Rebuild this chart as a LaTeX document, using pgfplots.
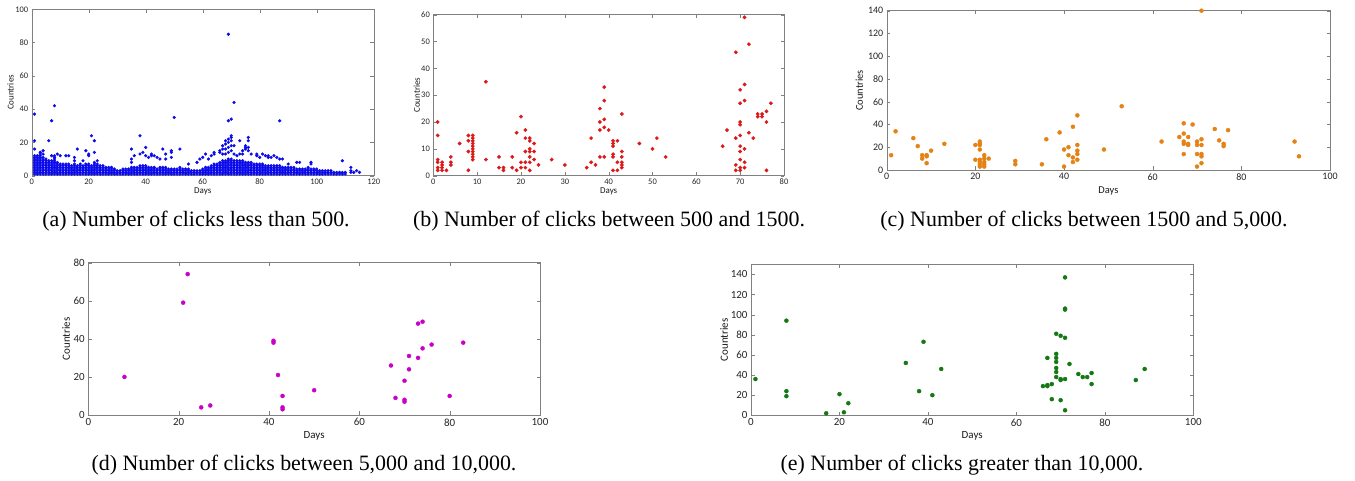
\documentclass[border=0pt]{standalone}
\usepackage{fontspec}
\setmainfont{Liberation Serif}
\newfontfamily\calib{Carlito}
\usepackage{pgfplots}
\pgfplotsset{compat=1.18}
\definecolor{clrB}{RGB}{10,10,235}
\definecolor{clrR}{RGB}{220,25,25}
\definecolor{clrO}{RGB}{228,130,20}
\definecolor{clrM}{RGB}{200,0,200}
\definecolor{clrG}{RGB}{20,120,20}
\pgfplotsset{
  mat/.style={
    scale only axis, anchor=south west, clip=false,
    axis line style={draw=black!50},
    tick style={draw=black!50},
    major tick length=3.5bp,
    tick align=inside,
    ticklabel style={text=black!85},
    /pgf/number format/assume math mode=true,
    scaled ticks=false,
    xmin=0, ymin=0,
    xlabel={Days}, ylabel={Countries},
    label style={text=black!90},
  },
  fs/.style={tick label style={font=\calib\fontsize{#1}{#1}\selectfont}},
  fl/.style={label style={font=\calib\fontsize{#1}{#1}\selectfont}},
}
\begin{document}
\begin{tikzpicture}[x=1bp,y=1bp]
\path[use as bounding box] (0,0) rectangle (1355,481);
% (a)
\begin{axis}[mat, fs=8.5, fl=9, at={(31.7bp,305.3bp)}, width=342bp, height=166.4bp,
  xmax=120, ymax=100, xtick={0,20,...,120}, ytick={0,20,...,100},
  xlabel style={at={(axis description cs:0.5,-0.096)},anchor=center},
  ylabel style={at={(axis description cs:-0.062,0.5)},anchor=center}]
\addplot[only marks, mark=*, mark size=1.4bp, clrB] coordinates {
(1,1)(1,2)(1,3)(1,4)(1,5)(1,6)(1,7)(1,8)(1,9)(1,10)(1,11)(1,12)
(2,1)(2,2)(2,3)(2,4)(2,5)(2,6)(2,7)(2,8)(2,9)(2,10)(2,11)(2,12)
(3,1)(3,2)(3,3)(3,4)(3,5)(3,6)(3,7)(3,8)(3,9)(3,10)(3,11)(3,12)
(4,1)(4,2)(4,3)(4,4)(4,5)(4,6)(4,7)(4,8)(4,9)(4,10)(4,11)
(5,1)(5,2)(5,3)(5,4)(5,5)(5,6)(5,7)(5,8)(5,9)(5,10)
(6,1)(6,2)(6,3)(6,4)(6,5)(6,6)(6,7)(6,8)(6,9)
(7,1)(7,2)(7,3)(7,4)(7,5)(7,6)(7,7)(7,8)(7,9)
(8,1)(8,2)(8,3)(8,4)(8,5)(8,6)(8,7)(8,8)(8,9)(8,10)
(9,1)(9,2)(9,3)(9,4)(9,5)(9,6)(9,7)(9,8)
(10,1)(10,2)(10,3)(10,4)(10,5)(10,6)(10,7)
(11,1)(11,2)(11,3)(11,4)(11,5)(11,6)(11,7)
(12,1)(12,2)(12,3)(12,4)(12,5)(12,6)(12,7)
(13,1)(13,2)(13,3)(13,4)(13,5)(13,6)(13,7)
(14,1)(14,2)(14,3)(14,4)(14,5)(14,6)
(15,1)(15,2)(15,3)(15,4)(15,5)(15,6)(15,7)
(16,1)(16,2)(16,3)(16,4)(16,5)(16,6)
(17,1)(17,2)(17,3)(17,4)(17,5)(17,6)(17,7)
(18,1)(18,2)(18,3)(18,4)(18,5)(18,6)
(19,1)(19,2)(19,3)(19,4)(19,5)(19,6)(19,7)
(20,1)(20,2)(20,3)(20,4)(20,5)(20,6)(20,7)
(21,1)(21,2)(21,3)(21,4)(21,5)(21,6)
(22,1)(22,2)(22,3)(22,4)(22,5)(22,6)(22,7)(22,8)
(23,1)(23,2)(23,3)(23,4)(23,5)(23,6)(23,7)
(24,1)(24,2)(24,3)(24,4)(24,5)(24,6)
(25,1)(25,2)(25,3)(25,4)(25,5)(25,6)
(26,1)(26,2)(26,3)(26,4)(26,5)
(27,1)(27,2)(27,3)(27,4)(27,5)
(28,1)(28,2)(28,3)(28,4)(28,5)
(29,1)(29,2)(29,3)(29,4)
(30,1)(30,2)(30,3)
(31,1)(31,2)(31,3)
(32,1)(32,2)(32,3)(32,4)
(33,1)(33,2)(33,3)(33,4)
(34,1)(34,2)(34,3)(34,4)
(35,1)(35,2)(35,3)(35,4)(35,5)
(36,1)(36,2)(36,3)(36,4)(36,5)
(37,1)(37,2)(37,3)(37,4)(37,5)
(38,1)(38,2)(38,3)(38,4)(38,5)(38,6)
(39,1)(39,2)(39,3)(39,4)(39,5)(39,6)
(40,1)(40,2)(40,3)(40,4)(40,5)(40,6)
(41,1)(41,2)(41,3)(41,4)(41,5)
(42,1)(42,2)(42,3)(42,4)(42,5)
(43,1)(43,2)(43,3)(43,4)(43,5)
(44,1)(44,2)(44,3)(44,4)
(45,1)(45,2)(45,3)(45,4)(45,5)
(46,1)(46,2)(46,3)(46,4)(46,5)
(47,1)(47,2)(47,3)(47,4)(47,5)
(48,1)(48,2)(48,3)(48,4)
(49,1)(49,2)(49,3)(49,4)
(50,1)(50,2)(50,3)(50,4)
(51,1)(51,2)(51,3)(51,4)
(52,1)(52,2)(52,3)(52,4)(52,5)
(53,1)(53,2)(53,3)(53,4)
(54,1)(54,2)(54,3)(54,4)
(55,1)(55,2)(55,3)(55,4)
(56,1)(56,2)(56,3)
(57,1)(57,2)(57,3)
(58,1)(58,2)(58,3)
(59,1)(59,2)(59,3)
(60,1)(60,2)(60,3)(60,4)
(61,1)(61,2)(61,3)(61,4)(61,5)
(62,1)(62,2)(62,3)(62,4)(62,5)
(63,1)(63,2)(63,3)(63,4)(63,5)(63,6)
(64,1)(64,2)(64,3)(64,4)(64,5)(64,6)(64,7)
(65,1)(65,2)(65,3)(65,4)(65,5)(65,6)(65,7)
(66,1)(66,2)(66,3)(66,4)(66,5)(66,6)(66,7)(66,8)
(67,1)(67,2)(67,3)(67,4)(67,5)(67,6)(67,7)(67,8)(67,9)
(68,1)(68,2)(68,3)(68,4)(68,5)(68,6)(68,7)(68,8)(68,9)
(69,1)(69,2)(69,3)(69,4)(69,5)(69,6)(69,7)(69,8)(69,9)(69,10)
(70,1)(70,2)(70,3)(70,4)(70,5)(70,6)(70,7)(70,8)(70,9)(70,10)
(71,1)(71,2)(71,3)(71,4)(71,5)(71,6)(71,7)(71,8)(71,9)
(72,1)(72,2)(72,3)(72,4)(72,5)(72,6)(72,7)(72,8)(72,9)
(73,1)(73,2)(73,3)(73,4)(73,5)(73,6)(73,7)(73,8)(73,9)
(74,1)(74,2)(74,3)(74,4)(74,5)(74,6)(74,7)(74,8)(74,9)
(75,1)(75,2)(75,3)(75,4)(75,5)(75,6)(75,7)(75,8)
(76,1)(76,2)(76,3)(76,4)(76,5)(76,6)(76,7)(76,8)
(77,1)(77,2)(77,3)(77,4)(77,5)(77,6)(77,7)(77,8)
(78,1)(78,2)(78,3)(78,4)(78,5)(78,6)(78,7)
(79,1)(79,2)(79,3)(79,4)(79,5)(79,6)(79,7)
(80,1)(80,2)(80,3)(80,4)(80,5)(80,6)(80,7)
(81,1)(81,2)(81,3)(81,4)(81,5)(81,6)(81,7)
(82,1)(82,2)(82,3)(82,4)(82,5)(82,6)
(83,1)(83,2)(83,3)(83,4)(83,5)(83,6)
(84,1)(84,2)(84,3)(84,4)(84,5)(84,6)
(85,1)(85,2)(85,3)(85,4)(85,5)(85,6)
(86,1)(86,2)(86,3)(86,4)(86,5)(86,6)
(87,1)(87,2)(87,3)(87,4)(87,5)(87,6)
(88,1)(88,2)(88,3)(88,4)(88,5)
(89,1)(89,2)(89,3)(89,4)(89,5)
(90,1)(90,2)(90,3)(90,4)(90,5)
(91,1)(91,2)(91,3)(91,4)(91,5)
(92,1)(92,2)(92,3)(92,4)(92,5)
(93,1)(93,2)(93,3)(93,4)
(94,1)(94,2)(94,3)(94,4)
(95,1)(95,2)(95,3)(95,4)
(96,1)(96,2)(96,3)(96,4)
(97,1)(97,2)(97,3)(97,4)(97,5)
(98,1)(98,2)(98,3)(98,4)
(99,1)(99,2)(99,3)(99,4)
(100,1)(100,2)(100,3)(100,4)
(101,1)(101,2)(101,3)
(102,1)(102,2)(102,3)
(103,1)(103,2)(103,3)
(104,1)(104,2)(104,3)
(105,1)(105,2)(105,3)
(106,1)(106,2)
(107,1)(107,2)
(108,1)(108,2)
(109,1)(109,2)
(110,1)(110,2)
(112,2)(112,3)(113,2)(115,2)
(1,37)(1,21)(1,16)(6,21)(7,33)(8,42)(3,14)(3,13)(4,15)(4,13)(7,12)(8,12)(8,11)
(9,13)(10,12)(12,12)(13,12)(15,11)(15,9)(16,16)(18,9)(19,15)(20,13)(20,12)
(21,24)(22,21)(22,14)(23,9)(35,16)(35,10)(35,8)(36,12)(38,24)(38,13)(39,14)
(40,17)(40,12)(41,11)(42,13)(42,12)(43,12)(44,11)(45,10)(46,16)(47,13)(47,10)
(49,15)(49,14)(49,11)(50,35)(52,16)(55,7)(58,8)(59,10)(60,11)(61,13)(62,10)
(63,12)(64,13)(64,14)(66,15)(66,14)(67,16)(67,18)(67,13)(68,19)(68,21)(68,16)
(68,13)(69,85)(69,33)(69,22)(69,20)(69,17)(69,14)(70,34)(70,24)(70,23)(70,21)
(70,18)(70,15)(71,44)(71,18)(71,13)(72,12)(73,21)(73,13)(74,15)(74,13)(75,18)
(75,17)(75,16)(76,23)(76,21)(76,17)(76,15)(77,13)(79,13)(79,12)(80,11)(81,13)
(82,12)(83,12)(83,11)(84,11)(85,12)(86,11)(87,33)(87,10)(88,10)(90,7)(93,8)
(94,8)(98,8)(98,7)(109,9)(112,5)(114,3)
};
\end{axis}
% (b)
\begin{axis}[mat, fs=8.5, fl=9, at={(433.3bp,305.3bp)}, width=350.7bp, height=161bp,
  xmax=80, ymax=60, xtick={0,10,...,80}, ytick={0,10,...,60},
  xlabel style={at={(axis description cs:0.5,-0.099)},anchor=center},
  ylabel style={at={(axis description cs:-0.047,0.5)},anchor=center}]
\addplot[only marks, mark=*, mark size=1.7bp, clrR] coordinates {
(1,20)(1,15)(1,6)(1,5)(1,3)(1,2)(2,5)(2,4)(2,3)(2,2)(3,2)(4,7)(4,5)(4,4)(6,12)
(8,15)(8,13)(8,9)(8,2)(9,15)(9,14)(9,13)(9,12)(9,11)(9,10)(9,9)(9,8)(9,7)(9,6)
(12,35)(12,6)(15,7)(15,3)(16,3)(16,2)(18,7)(18,3)(19,16)(19,2)(20,22)(20,5)(20,3)
(21,17)(21,14)(21,9)(21,5)(21,3)(22,14)(22,13)(22,10)(22,9)(22,7)(22,5)(22,2)
(23,12)(23,9)(23,6)(24,4)(27,6)(30,4)(35,3)(36,14)(36,5)(37,4)
(38,25)(38,20)(38,17)(38,7)(39,33)(39,28)(39,21)(39,18)(39,7)(40,17)
(41,13)(41,12)(41,11)(41,8)(41,7)(41,2)(42,13)(42,5)(42,2)
(43,23)(43,9)(43,7)(43,5)(43,4)(43,3)(47,12)(50,10)(51,14)(53,7)
(66,11)(67,17)(69,46)(69,14)(69,4)(69,2)
(70,32)(70,27)(70,20)(70,19)(70,15)(70,11)(70,9)(70,6)(70,3)(70,2)
(71,59)(71,34)(71,28)(71,10)(71,5)(71,3)(72,49)(72,16)(73,14)
(74,23)(74,22)(75,23)(75,22)(76,24)(76,20)(76,2)(77,27)
};
\end{axis}
% (c)
\begin{axis}[mat, fs=10, fl=10.5, at={(886.7bp,311bp)}, width=443.3bp, height=159.3bp,
  xmax=100, ymax=140, xtick={0,20,...,100}, ytick={0,20,...,140},
  xlabel style={at={(axis description cs:0.5,-0.132)},anchor=center},
  ylabel style={at={(axis description cs:-0.062,0.5)},anchor=center}]
\addplot[only marks, mark=*, mark size=2bp, clrO] coordinates {
(1,13)(2,34)(6,28)(7,21)(8,13)(8,10)(9,13)(9,12)(9,6)(10,17)(13,23)
(20,22)(20,9)(21,25)(21,23)(21,22)(21,18)(21,9)(21,7)(21,5)(21,3)
(22,13)(22,10)(22,7)(22,5)(22,3)(23,10)(29,8)(29,5)(35,5)(36,27)(39,33)
(40,18)(40,3)(41,20)(41,13)(42,38)(42,11)(42,7)(43,48)(43,22)(43,17)(43,14)(43,9)
(49,18)(53,56)(62,25)(66,29)(67,41)(67,32)(67,25)(67,23)(67,14)(68,29)(68,23)(68,22)
(69,40)(70,25)(70,22)(70,14)(70,3)(71,140)(71,27)(71,22)(71,14)(71,12)(71,6)
(74,36)(75,26)(76,23)(76,21)(77,35)(92,25)(93,12)
};
\end{axis}
% (d)
\begin{axis}[mat, fs=11, fl=11, at={(88.3bp,66bp)}, width=451.7bp, height=152.3bp,
  xmax=100, ymax=80, xtick={0,20,...,100}, ytick={0,20,...,80},
  xlabel style={at={(axis description cs:0.5,-0.138)},anchor=center},
  ylabel style={at={(axis description cs:-0.049,0.5)},anchor=center}]
\addplot[only marks, mark=*, mark size=2bp, clrM] coordinates {
(8,20)(21,59)(22,74)(25,4)(27,5)(41,39)(41,38)(42,21)(43,10)(43,4)(43,3)(50,13)
(67,26)(68,9)(70,18)(70,8)(70,7)(71,31)(71,24)(73,48)(73,30)(74,49)(74,35)
(76,37)(80,10)(83,38)
};
\end{axis}
% (e)
\begin{axis}[mat, fs=11, fl=11, at={(751bp,65.7bp)}, width=442.3bp, height=151bp,
  xmax=100, ymax=150, xtick={0,20,...,100}, ytick={0,20,...,140},
  xlabel style={at={(axis description cs:0.5,-0.139)},anchor=center},
  ylabel style={at={(axis description cs:-0.061,0.5)},anchor=center}]
\addplot[only marks, mark=*, mark size=2bp, clrG] coordinates {
(1,36)(8,94)(8,24)(8,19)(17,2)(20,21)(21,3)(22,12)(35,52)(38,24)(39,73)(41,20)(43,46)
(66,29)(67,57)(67,30)(67,29)(68,31)(68,16)(69,81)(69,61)(69,57)(69,53)(69,47)(69,43)(69,38)
(70,79)(70,36)(70,35)(70,15)(71,137)(71,106)(71,105)(71,77)(71,36)(71,5)(72,51)
(74,41)(75,38)(76,38)(77,42)(77,31)(87,35)(89,46)
};
\end{axis}
\begin{scope}[every node/.style={font=\fontsize{22}{22}\selectfont, inner sep=0pt}]
\node at (196,260) {(a)\ Number of clicks less than 500.};
\node at (609,260) {(b)\ Number of clicks between 500 and 1500.};
\node at (1084,260) {(c)\ Number of clicks between 1500 and 5,000.};
\node at (304,16) {(d)\ Number of clicks between 5,000 and 10,000.};
\node at (962,16) {(e)\ Number of clicks greater than 10,000.};
\end{scope}
\end{tikzpicture}
\end{document}
